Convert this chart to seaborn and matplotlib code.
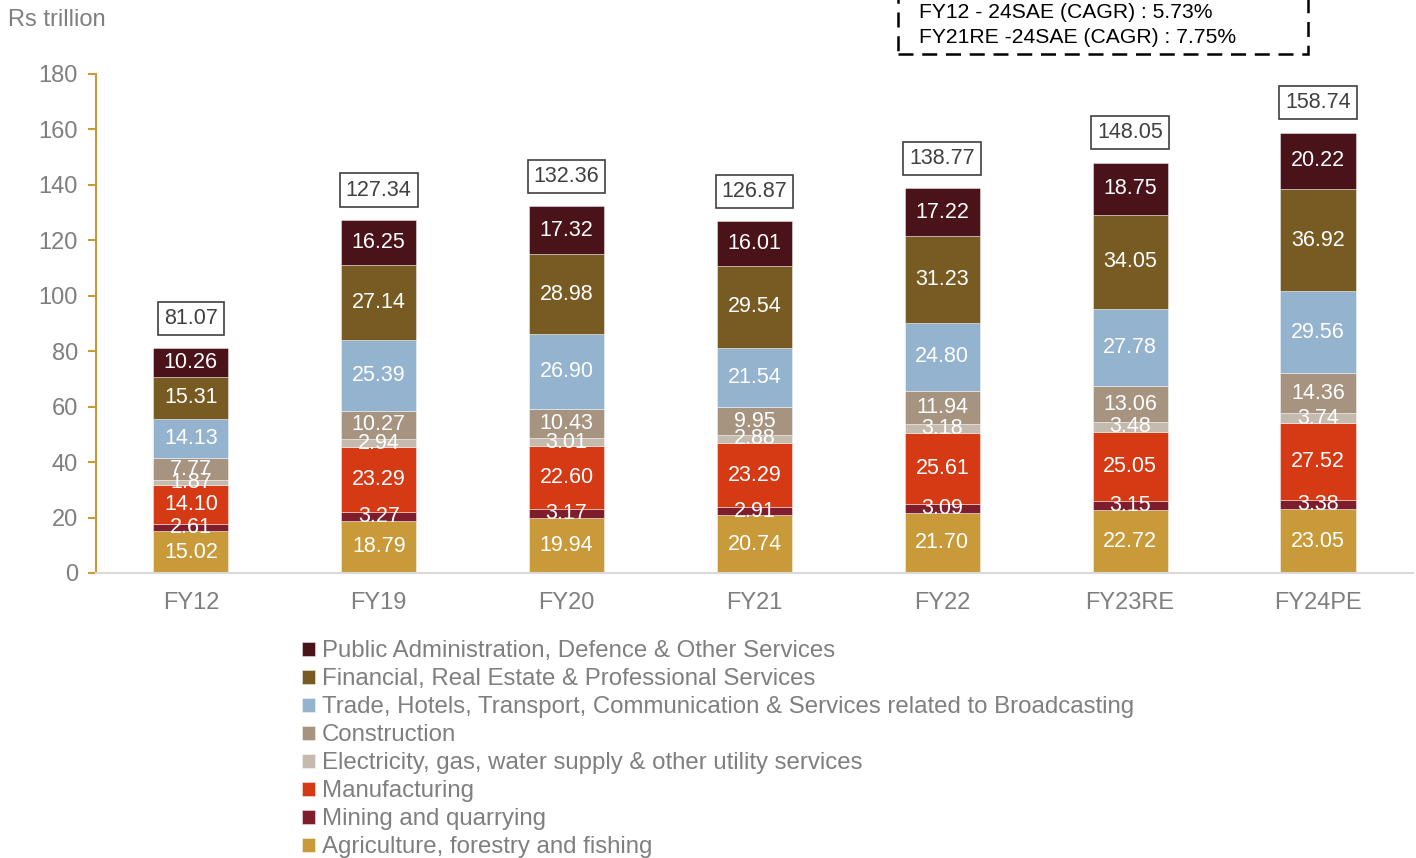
import matplotlib
matplotlib.use("Agg")
import matplotlib.pyplot as plt
import matplotlib.patches as mpatches
import seaborn as sns
import numpy as np

years = ["FY12", "FY19", "FY20", "FY21", "FY22", "FY23RE", "FY24PE"]
agriculture = [15.02, 18.79, 19.94, 20.74, 21.70, 22.72, 23.05]
mining = [2.61, 3.27, 3.17, 2.91, 3.09, 3.15, 3.38]
manufacturing = [14.10, 23.29, 22.60, 23.29, 25.61, 25.05, 27.52]
electricity = [1.87, 2.94, 3.01, 2.88, 3.18, 3.48, 3.74]
construction = [7.77, 10.27, 10.43, 9.95, 11.94, 13.06, 14.36]
trade = [14.13, 25.39, 26.90, 21.54, 24.80, 27.78, 29.56]
financial = [15.31, 27.14, 28.98, 29.54, 31.23, 34.05, 36.92]
public_admin = [10.26, 16.25, 17.32, 16.01, 17.22, 18.75, 20.22]
totals = [81.07, 127.34, 132.36, 126.87, 138.77, 148.05, 158.74]

series_names = [
    "Agriculture, forestry and fishing",
    "Mining and quarrying",
    "Manufacturing",
    "Electricity, gas, water supply & other utility services",
    "Construction",
    "Trade, Hotels, Transport, Communication & Services related to Broadcasting",
    "Financial, Real Estate & Professional Services",
    "Public Administration, Defence & Other Services",
]
series_values = [agriculture, mining, manufacturing, electricity,
                 construction, trade, financial, public_admin]
colors = ["#C99A3A", "#7E1E2C", "#D63A15", "#C4BAAD",
          "#A69481", "#94B3CF", "#775B22", "#4A1219"]

cagr_text = "FY12 - 24SAE (CAGR) : 5.73%\nFY21RE -24SAE (CAGR) : 7.75%"

sns.set_style("white")
plt.rcParams["font.family"] = ["Liberation Sans", "DejaVu Sans"]

fig = plt.figure(figsize=(14.16, 8.58), dpi=100)
ax = fig.add_axes([0.0678, 0.3322, 0.930, 0.5816])

grey = "#7F7F7F"
bottom = np.zeros(len(years))
for name, vals, col in zip(series_names, series_values, colors):
    vals = np.array(vals)
    sns.barplot(x=years, y=vals, bottom=bottom, color=col, width=0.4,
                ax=ax, saturation=1, edgecolor=(1, 1, 1, 0.5), linewidth=0.6,
                label=name)
    for i, v in enumerate(vals):
        ax.text(i, bottom[i] + v / 2, f"{v:.2f}", ha="center", va="center",
                color="white", fontsize=15.5)
    bottom = bottom + vals

for i, t in enumerate(totals):
    ax.text(i, bottom[i] + 10.8, f"{t:.2f}", ha="center", va="center",
            color="#404040", fontsize=15.5,
            bbox=dict(boxstyle="square,pad=0.28", facecolor="white",
                      edgecolor="#404040", linewidth=1.2))

ax.set_xlim(-0.505, 6.505)
ax.set_ylim(0, 180)
ax.set_yticks(np.arange(0, 181, 20))
ax.set_xlabel("")
ax.set_ylabel("")
for s in ["top", "right"]:
    ax.spines[s].set_visible(False)
ax.spines["left"].set_color("#C99A3A")
ax.spines["left"].set_linewidth(1.5)
ax.spines["bottom"].set_color("#D9D9D9")
ax.spines["bottom"].set_linewidth(1.5)
ax.tick_params(axis="y", which="both", left=True, length=6, width=1.5,
               color="#C99A3A", labelsize=17, labelcolor=grey, pad=7)
ax.tick_params(axis="x", bottom=False, labelsize=17, labelcolor=grey, pad=10)

fig.text(0.006, 1 - 20 / 858, "Rs trillion", fontsize=17, color=grey,
         ha="left", va="center")

# CAGR box (dashed), extending past the top edge of the figure
rect = mpatches.Rectangle((898 / 1416, 1 - 54 / 858), 410 / 1416, 0.1,
                          transform=fig.transFigure, facecolor="white",
                          edgecolor="black", linewidth=1.8,
                          linestyle=(0, (6, 3.5)), zorder=5)
fig.add_artist(rect)
fig.text(919 / 1416, 1 - 25 / 858, cagr_text, fontsize=15.2,
         color="black", ha="left", va="center", linespacing=1.4, zorder=6)

h, l = ax.get_legend_handles_labels()
leg = fig.legend(h[::-1], l[::-1], loc="upper left",
                 bbox_to_anchor=(0.213, 0.2537), frameon=False,
                 fontsize=17.3, labelcolor=grey, handlelength=0.55,
                 handleheight=0.55, handletextpad=0.3, labelspacing=0.25,
                 borderaxespad=0, borderpad=0)
if ax.get_legend():
    ax.get_legend().remove()

fig.savefig("out.png", dpi=100)
